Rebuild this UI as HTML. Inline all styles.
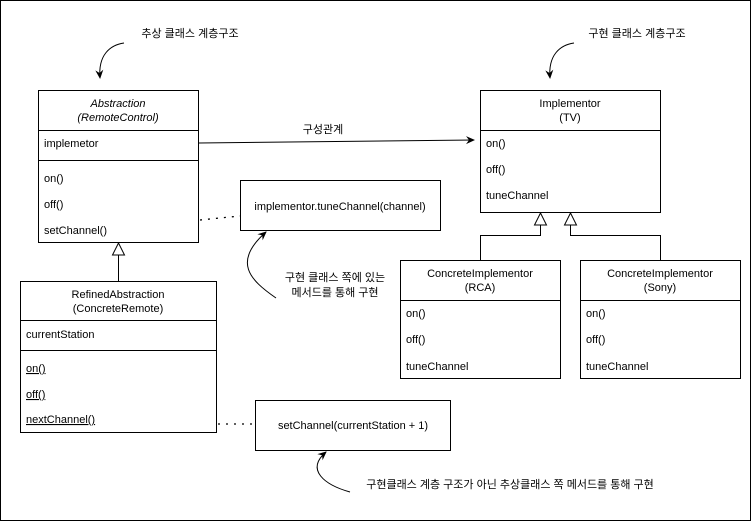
<!DOCTYPE html>
<html><head><meta charset="utf-8"><style>
body{margin:0;width:751px;height:521px;background:#fff;overflow:hidden}
text{font-family:"Liberation Sans","Noto Sans CJK KR",sans-serif;font-size:11px;fill:#000}
</style></head><body>
<svg width="751" height="521" xmlns="http://www.w3.org/2000/svg">
<defs>
<marker id="a" markerWidth="10" markerHeight="10" refX="8" refY="5" orient="auto" markerUnits="userSpaceOnUse"><path d="M0,1 L9,5 L0,9 L3,5 Z" fill="#000"/></marker>
</defs>
<rect x="0.5" y="0.5" width="750" height="520" fill="none" stroke="#000"/>
<g fill="#fff" stroke="#000">
<rect x="38.5" y="90.5" width="160" height="152"/>
<line x1="38.5" y1="130.5" x2="198.5" y2="130.5"/><line x1="38.5" y1="160.5" x2="198.5" y2="160.5"/>
<rect x="20.5" y="281.5" width="196" height="151"/>
<line x1="20.5" y1="320.5" x2="216.5" y2="320.5"/><line x1="20.5" y1="350.5" x2="216.5" y2="350.5"/>
<rect x="240.5" y="180.5" width="200" height="50"/>
<rect x="255.5" y="400.5" width="195" height="50"/>
<rect x="480.5" y="90.5" width="180" height="122"/>
<line x1="480.5" y1="130.5" x2="660.5" y2="130.5"/>
<rect x="400.5" y="260.5" width="160" height="118"/>
<line x1="400.5" y1="300.5" x2="560.5" y2="300.5"/>
<rect x="580.5" y="260.5" width="160" height="118"/>
<line x1="580.5" y1="300.5" x2="740.5" y2="300.5"/>
<path d="M118.5,255 V281" fill="none"/>
<path d="M118.5,243 L112.5,255 L124.5,255 Z"/>
<path d="M540.5,225 V235.5 H480.5 V260 M570.5,225 V235.5 H660.5 V260" fill="none"/>
<path d="M540.5,213 L534.5,225 L546.5,225 Z"/>
<path d="M570.5,213 L564.5,225 L576.5,225 Z"/>
</g>
<g stroke="#000" fill="none">
<line x1="199" y1="143" x2="474" y2="140" marker-end="url(#a)"/>
<line x1="200" y1="220" x2="240" y2="216" stroke-dasharray="2,6" stroke-width="1.3"/>
<line x1="218" y1="424" x2="255" y2="424" stroke-dasharray="2,6" stroke-width="1.3"/>
<path d="M124,43 C110,45 98,55 100,78" marker-end="url(#a)"/>
<path d="M574,43 C560,45 548,55 550,78" marker-end="url(#a)"/>
<path d="M276,298 C250,280 232,262 266,232" marker-end="url(#a)"/>
<path d="M251,491 C215,475 210,465 226,454" transform="translate(0,0)" style="display:none"/>
<path d="M251,490 C220,480 210,470 228,452" style="display:none"/>
<path d="M251,490 C225,484 205,475 226,451" style="display:none"/>
<path d="M251,490 C224,482 200,476 226,451" style="display:none"/>
<path d="M251,490 C224,481 208,470 227,452" style="display:none"/>
<path d="M251,490 C226,482 205,472 227,451" style="display:none"/>
<path d="M251,490 C226,482 205,472 227,451" style="display:none"/>
<path d="M251,490 C230,484 206,470 226,451" style="display:none"/>
<path d="M251,490 C235,484 210,470 226,451" style="display:none"/>
<path d="M251,490 C235,484 300,480 326,451" style="display:none"/>
<path d="M251,490 C320,488 305,470 326,451" style="display:none"/>
<path d="M251,490 C230,484 305,480 326,451" style="display:none"/>
<path d="M251,490 C310,484 306,470 326,452" style="display:none"/>
<path d="M350,492 C325,485 305,470 326,452" marker-end="url(#a)"/>
</g>
<g text-anchor="middle">
<text x="118" y="107" font-style="italic">Abstraction</text>
<text x="118" y="121" font-style="italic">(RemoteControl)</text>
<text x="118" y="298">RefinedAbstraction</text>
<text x="118" y="312">(ConcreteRemote)</text>
<text x="570" y="107">Implementor</text>
<text x="570" y="121">(TV)</text>
<text x="480" y="277">ConcreteImplementor</text>
<text x="480" y="291">(RCA)</text>
<text x="660" y="277">ConcreteImplementor</text>
<text x="660" y="291">(Sony)</text>
<text x="340" y="210">implementor.tuneChannel(channel)</text>
<text x="353" y="429">setChannel(currentStation + 1)</text>
<text x="323" y="133">구성관계</text>
<text x="190" y="37">추상 클래스 계층구조</text>
<text x="637" y="37">구현 클래스 계층구조</text>
<text x="335" y="281">구현 클래스 쪽에 있는</text>
<text x="335" y="296">메서드를 통해 구현</text>
<text x="510" y="488">구현클래스 계층 구조가 아닌 추상클래스 쪽 메서드를 통해 구현</text>
</g>
<text x="44" y="147">implemetor</text>
<text x="44" y="182">on()</text>
<text x="44" y="208">off()</text>
<text x="44" y="234">setChannel()</text>
<text x="26" y="338">currentStation</text>
<text x="26" y="372" text-decoration="underline">on()</text>
<text x="26" y="398" text-decoration="underline">off()</text>
<text x="26" y="423" text-decoration="underline">nextChannel()</text>
<text x="486" y="147">on()</text>
<text x="486" y="173">off()</text>
<text x="486" y="199">tuneChannel</text>
<text x="406" y="317">on()</text>
<text x="406" y="343">off()</text>
<text x="406" y="370">tuneChannel</text>
<text x="586" y="317">on()</text>
<text x="586" y="343">off()</text>
<text x="586" y="370">tuneChannel</text>
</svg>
</body></html>
